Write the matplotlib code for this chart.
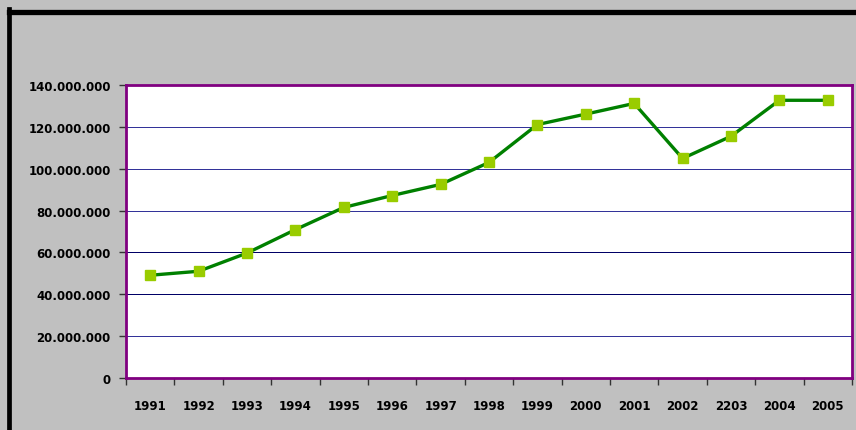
import matplotlib
matplotlib.use("Agg")
import matplotlib.pyplot as plt
from matplotlib.lines import Line2D
from matplotlib.ticker import FuncFormatter, FixedLocator

years = ["1991", "1992", "1993", "1994", "1995", "1996", "1997", "1998",
         "1999", "2000", "2001", "2002", "2203", "2004", "2005"]
values = [49.1, 51.0, 59.7, 70.9, 81.5, 87.2, 92.5, 103.0,
          121.1, 126.1, 131.2, 104.9, 115.5, 132.7, 132.7]  # millions
y_ticks = [0, 20, 40, 60, 80, 100, 120, 140]

W, H = 856, 431
fig = plt.figure(figsize=(W / 100, H / 100), dpi=100)
fig.patch.set_facecolor("#C0C0C0")

# black frame on left and top (rest is cropped)
fig.add_artist(Line2D([9 / W, 9 / W], [0, 1 - 10 / H], color="black",
                      linewidth=3.4, solid_capstyle="projecting"))
fig.add_artist(Line2D([9 / W, 1.01], [1 - 12.5 / H, 1 - 12.5 / H], color="black",
                      linewidth=3.8, solid_capstyle="projecting"))

ax = fig.add_axes([126 / W, (H - 379) / H, (852 - 126) / W, 293 / H])
ax.set_facecolor("white")

x = list(range(len(years)))
ax.plot(x, [v * 1e6 for v in values], color="#008000", linewidth=2.4,
        marker="s", markersize=7.5, markerfacecolor="#99CC00",
        markeredgecolor="#99CC00", zorder=3)

ax.set_xlim(-0.5, len(years) - 0.5)
ax.set_ylim(0, 140e6)

ax.yaxis.set_major_locator(FixedLocator([t * 1e6 for t in y_ticks]))
ax.yaxis.set_major_formatter(FuncFormatter(lambda v, p: f"{int(round(v)):,}".replace(",", ".")))
ax.grid(axis="y", color="#333399", linewidth=0.72)
ax.set_axisbelow(True)
for i, gl in enumerate(ax.yaxis.get_gridlines()):
    gl.set_antialiased(False)
    if y_ticks[i] in (40, 60):
        gl.set_color("#000066")

ax.set_xticks(x)
ax.set_xticklabels(years)
ax.set_xticks([i + 0.5 for i in range(-1, len(years))], minor=True)
ax.tick_params(axis="x", which="major", length=0, pad=15)
ax.tick_params(axis="x", which="minor", length=5, width=1, color="#333333")
ax.tick_params(axis="y", length=5, width=1, color="#333333", pad=6)

for lab in ax.get_xticklabels() + ax.get_yticklabels():
    lab.set_fontweight("bold")
    lab.set_fontsize(8.5)
    lab.set_color("black")

for s in ax.spines.values():
    s.set_color("#800080")
    s.set_linewidth(2)

fig.savefig("out.png", dpi=100, facecolor=fig.get_facecolor())
